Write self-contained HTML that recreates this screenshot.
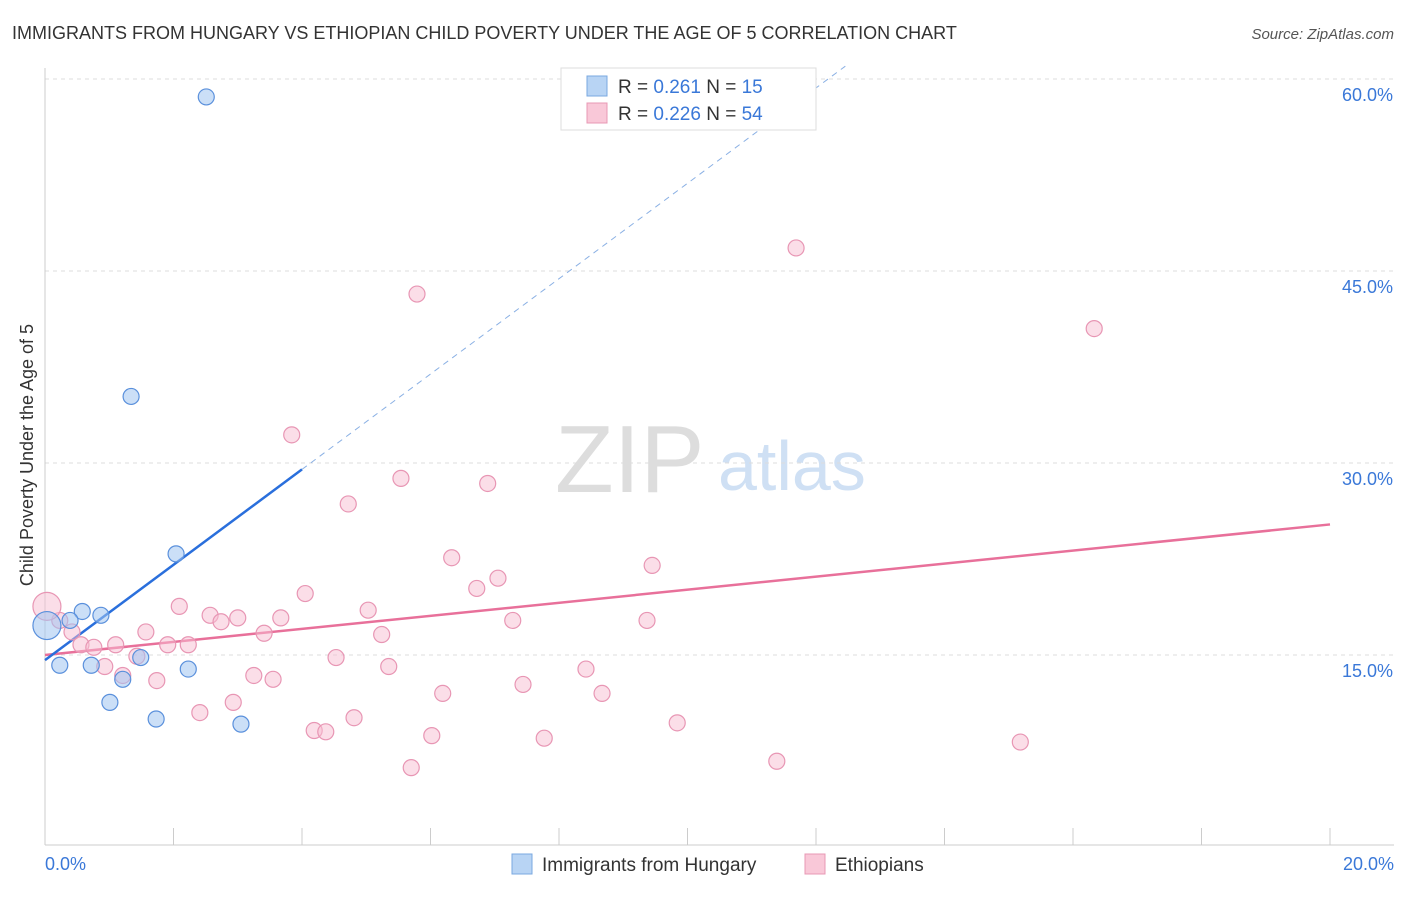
<!DOCTYPE html>
<html><head><meta charset="utf-8"><style>
body{margin:0;background:#fff;font-family:"Liberation Sans",sans-serif}
svg text{font-family:"Liberation Sans",sans-serif}
</style></head><body>
<svg id="chart" width="1406" height="892">
<text x="12" y="39" font-size="18" fill="#333">IMMIGRANTS FROM HUNGARY VS ETHIOPIAN CHILD POVERTY UNDER THE AGE OF 5 CORRELATION CHART</text>
<text x="1394" y="39" font-size="15" fill="#555" text-anchor="end" font-style="italic">Source: ZipAtlas.com</text>
<text x="33" y="455" font-size="18" fill="#333" text-anchor="middle" transform="rotate(-90 33 455)">Child Poverty Under the Age of 5</text>
<text x="555" y="492" font-size="96" fill="#ddd" font-family="Liberation Serif">ZIP</text>
<text x="718" y="490" font-size="70" fill="#cfe0f4">atlas</text>
<g id="grid"></g><g id="axes"></g><g id="lines"></g><g id="pts"></g>
<g>
<rect x="561" y="68" width="255" height="62" fill="#fff" stroke="#ddd"/>
<rect x="587" y="76" width="20" height="20" fill="#b8d4f4" stroke="#7aa8e0"/>
<rect x="587" y="103" width="20" height="20" fill="#f9c8d8" stroke="#e898b4"/>
<text x="618" y="93" font-size="19" fill="#333">R = <tspan fill="#3a78d8">0.261</tspan>   N = <tspan fill="#3a78d8">15</tspan></text>
<text x="618" y="120" font-size="19" fill="#333">R = <tspan fill="#3a78d8">0.226</tspan>   N = <tspan fill="#3a78d8">54</tspan></text>
</g>
<g>
<rect x="512" y="854" width="20" height="20" fill="#b8d4f4" stroke="#7aa8e0"/>
<text x="542" y="871" font-size="19" fill="#333">Immigrants from Hungary</text>
<rect x="805" y="854" width="20" height="20" fill="#f9c8d8" stroke="#e898b4"/>
<text x="835" y="871" font-size="19" fill="#333">Ethiopians</text>
</g>
</svg>
<script>
const yTicks=[15,30,45,60];
const xTickLabels=["0.0%","20.0%"];
const hungaryX=[2.51,1.34,2.04,0.58,0.87,0.39,0.03,0.23,0.72,1.49,2.23,1.21,1.01,1.73,3.05];
const hungaryY=[58.6,35.2,22.9,18.4,18.1,17.7,17.3,14.2,14.2,14.8,13.9,13.1,11.3,10.0,9.6];
const hungaryR=[8,8,8,8,8,8,14,8,8,8,8,8,8,8,8];
const ethX=[11.69,5.79,16.33,3.84,5.54,6.89,4.72,6.33,9.45,7.05,6.72,4.05,2.09,5.03,2.57,3.00,3.67,2.74,7.28,9.37,0.23,0.03,0.42,1.57,3.41,5.24,0.56,0.76,1.10,1.91,2.23,1.43,4.53,0.93,5.35,8.42,1.21,3.25,3.55,1.74,7.44,6.19,8.67,2.93,2.41,4.81,9.84,4.19,4.37,6.02,7.77,15.18,5.70,11.39];
const ethY=[46.8,43.2,40.5,32.2,28.8,28.4,26.8,22.6,22.0,21.0,20.2,19.8,18.8,18.5,18.1,17.9,17.9,17.6,17.7,17.7,17.7,18.8,16.8,16.8,16.7,16.6,15.8,15.6,15.8,15.8,15.8,14.9,14.8,14.1,14.1,13.9,13.4,13.4,13.1,13.0,12.7,12.0,12.0,11.3,10.5,10.1,9.7,9.1,9.0,8.7,8.5,8.2,6.2,6.7];
const hungaryTrend=[14.6,29.5];
const ethTrend=[15.0,25.2];
const X=v=>45+v/20*1285, Y=v=>847-v*192/15;
const NS='http://www.w3.org/2000/svg';
function mk(parent,tag,attrs){const e=document.createElementNS(NS,tag);for(const k in attrs)e.setAttribute(k,attrs[k]);document.getElementById(parent).appendChild(e);return e;}
yTicks.forEach(t=>{
 const l=mk('grid','line',{x1:45,x2:1394,y1:Y(t),y2:Y(t),stroke:'#ddd','stroke-dasharray':'4,4'});
 
 
 const tx=mk('grid','text',{x:1393,y:Y(t)+22,'font-size':18,fill:'#3a78d8','text-anchor':'end'});
 tx.textContent=t.toFixed(1)+'%';
 
 
});
const ax=mk('axes','line',{x1:45,x2:1394,y1:845,y2:845,stroke:'#ccc'});


const ay=mk('axes','line',{x1:45,x2:45,y1:68,y2:845,stroke:'#ccc'});


for(let i=0;i<=10;i++){const t=mk('axes','line',{x1:X(i*2),x2:X(i*2),y1:828,y2:845,stroke:'#ccc'});
 
 }
const t0=mk('axes','text',{x:45,y:870,'font-size':18,fill:'#3a78d8'});t0.textContent=xTickLabels[0];


const t1=mk('axes','text',{x:1394,y:870,'font-size':18,fill:'#3a78d8','text-anchor':'end'});t1.textContent=xTickLabels[1];


const ethL=mk('lines','line',{x1:X(0),y1:Y(ethTrend[0]),x2:X(20),y2:Y(ethTrend[1]),stroke:'#e8709a','stroke-width':2.5});


const hs=(hungaryTrend[1]-hungaryTrend[0])/4;
const hL=mk('lines','line',{x1:X(0),y1:Y(hungaryTrend[0]),x2:X(4),y2:Y(hungaryTrend[1]),stroke:'#2a6fdc','stroke-width':2.5});


const xe=(61-hungaryTrend[0])/hs;
const hD=mk('lines','line',{x1:X(4),y1:Y(hungaryTrend[1]),x2:X(xe),y2:Y(61),stroke:'#8ab0e4','stroke-width':1,'stroke-dasharray':'6,5'});


ethX.forEach((x,i)=>{const c=mk('pts','circle',{cx:X(x),cy:Y(ethY[i]),r:(i==21?14:8),fill:'rgba(248,190,210,0.5)',stroke:'#e896b4','stroke-width':1.2});
 
 });
hungaryX.forEach((x,i)=>{const c=mk('pts','circle',{cx:X(x),cy:Y(hungaryY[i]),r:hungaryR[i],fill:'rgba(160,196,240,0.55)',stroke:'#5a90dc','stroke-width':1.2});
 
 });
</script>
</body></html>
